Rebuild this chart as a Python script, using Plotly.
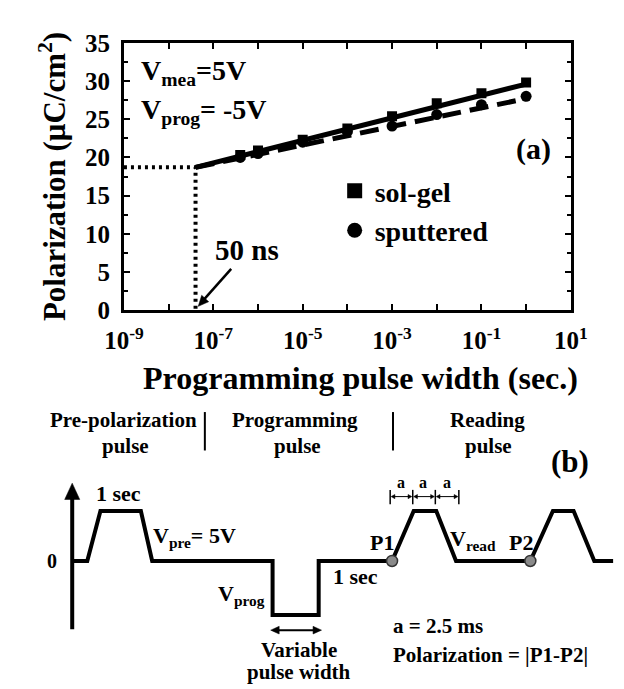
import math
import plotly.graph_objects as go

W, H = 624, 689
FONT = "Liberation Serif"

# ---------------- Panel (a) data ----------------
pulse_width = [4e-7, 1e-6, 1e-5, 1e-4, 1e-3, 1e-2, 1e-1, 1]
solgel = [20.3, 20.9, 22.3, 23.8, 25.4, 27.1, 28.4, 29.8]
sputtered = [20.0, 20.5, 22.0, 23.4, 24.1, 25.6, 26.9, 28.0]
fit_x = [4e-8, 1]
fit_solgel = [18.7, 29.6]
fit_sputtered = [18.7, 27.7]
guide_x = [1e-9, 4e-8, 4e-8]
guide_y = [18.7, 18.7, 0]

x_tickvals = [1e-9, 1e-7, 1e-5, 1e-3, 1e-1, 10]
x_ticktext = ["10<sup>-9</sup>", "10<sup>-7</sup>", "10<sup>-5</sup>",
              "10<sup>-3</sup>", "10<sup>-1</sup>", "10<sup>1</sup>"]
x_minorvals = [1e-8, 1e-6, 1e-4, 1e-2, 1]
y_tickvals = [0, 5, 10, 15, 20, 25, 30, 35]

# ---------------- Panel (b) schematic data ----------------
# time (schematic units) and voltage (V)
wave_t = [47, 63, 77, 120, 132, 260, 260, 309, 309, 387, 410, 434, 455, 534, 558, 580, 602, 622]
wave_v = [0, 0, 5, 5, 0, 0, -5.4, -5.4, 0, 0, 5, 5, 0, 0, 5, 5, 0, 0]
sample_t = [387, 534]
sample_v = [0, 0]


def px(x):
    return x / W


def py(y):
    return 1 - y / H


def yv(pix):  # pixel row -> schematic volts
    return (562 - pix) * 5 / 52


fig = go.Figure()

# guides
fig.add_trace(go.Scatter(x=guide_x, y=guide_y, mode="lines",
                         line=dict(color="black", width=4, dash="3px,4px"),
                         showlegend=False, xaxis="x", yaxis="y"))
# fits
fig.add_trace(go.Scatter(x=fit_x, y=fit_solgel, mode="lines",
                         line=dict(color="black", width=5),
                         showlegend=False))
fig.add_trace(go.Scatter(x=fit_x, y=fit_sputtered, mode="lines",
                         line=dict(color="black", width=5, dash="19px,9px"),
                         showlegend=False))
# data
fig.add_trace(go.Scatter(x=pulse_width, y=solgel, mode="markers",
                         marker=dict(symbol="square", size=10, color="black"),
                         showlegend=False))
fig.add_trace(go.Scatter(x=pulse_width, y=sputtered, mode="markers",
                         marker=dict(symbol="circle", size=11, color="black"),
                         showlegend=False))
# legend entries
fig.add_trace(go.Scatter(x=[None], y=[None], mode="markers", name="sol-gel",
                         marker=dict(symbol="square", size=15, color="black"),
                         legendgroup="a"))
fig.add_trace(go.Scatter(x=[None], y=[None], mode="markers", name="sputtered",
                         marker=dict(symbol="circle", size=15, color="black"),
                         legendgroup="b"))

# schematic waveform
fig.add_trace(go.Scatter(x=wave_t, y=wave_v, mode="lines",
                         line=dict(color="black", width=4),
                         showlegend=False, xaxis="x2", yaxis="y2"))
fig.add_trace(go.Scatter(x=sample_t, y=sample_v, mode="markers",
                         marker=dict(size=11, color="#8a8a8a",
                                     line=dict(color="#333333", width=1.5)),
                         showlegend=False, xaxis="x2", yaxis="y2"))

ann = []


def txt(t, x, y, size=21, xanchor="center", angle=0):
    ann.append(dict(text=t, x=px(x), y=py(y), xref="paper", yref="paper",
                    showarrow=False, xanchor=xanchor, yanchor="middle",
                    textangle=angle,
                    font=dict(family=FONT, size=size, color="black", weight="bold")))


# panel (a) texts
txt("V<sub>mea</sub>=5V", 118, 54, 28, "left")
txt("V<sub>prog</sub>= -5V", 118, 94, 28, "left")
txt("(a)", 537, 133, 30)
txt("50 ns", 233, 238, 29)
txt("Polarization (μC/cm<sup>2</sup>)", 26, 162, 31, angle=-90)
txt("Programming pulse width (sec.)", 353, 372, 32)

# panel (b) texts
txt("Pre-polarization", 101, 415)
txt("pulse", 104, 442)
txt("Programming", 284, 415)
txt("pulse", 286, 442)
txt("Reading", 488, 415)
txt("pulse", 490, 442)
txt("(b)", 576, 458, 31)
txt("1 sec", 96, 492, 22)
txt("V<sub>pre</sub>= 5V", 131, 537, 22, "left")
txt("V<sub>prog</sub>", 227, 597, 22)
txt("1 sec", 348, 578, 22)
txt("P1", 376, 543, 22)
txt("V<sub>read</sub>", 447, 540, 22, "left")
txt("P2", 524, 543, 22)
for ax_ in (396, 420, 445):
    txt("a", ax_, 480, 16)
txt("0", 25, 562, 20)
txt("Variable", 288, 655, 21)
txt("pulse width", 288, 678, 21)
txt("a = 2.5 ms", 386, 630, 21, "left")
txt("Polarization = |P1-P2|", 386, 660, 21, "left")

shapes = []


def pline(x0, y0, x1, y1, width):
    shapes.append(dict(type="line", xref="paper", yref="paper",
                       x0=px(x0), y0=py(y0), x1=px(x1), y1=py(y1),
                       line=dict(color="black", width=width)))


def head(tx, ty, fx, fy, hl, hw):
    # arrow head with tip at (tx, ty) pointing away from (fx, fy)
    dx, dy = tx - fx, ty - fy
    L = math.hypot(dx, dy)
    ux, uy = dx / L, dy / L
    bx, by = tx - ux * hl, ty - uy * hl
    p1 = (bx - uy * hw, by + ux * hw)
    p2 = (bx + uy * hw, by - ux * hw)
    path = (f"M {px(tx)} {py(ty)} L {px(p1[0])} {py(p1[1])} "
            f"L {px(p2[0])} {py(p2[1])} Z")
    shapes.append(dict(type="path", xref="paper", yref="paper", path=path,
                       fillcolor="black", line=dict(color="black", width=0.5)))


# 50 ns arrow
pline(216, 258, 186, 291, 2.5)
head(181, 297, 216, 258, 11, 5)

# variable pulse width arrow
pline(264, 634, 306, 634, 2)
head(258, 634, 312, 634, 9, 4)
head(312, 634, 258, 634, 9, 4)

# dimension arrows
dim_x = [385, 409, 433, 458]
for i in range(3):
    a0, a1 = dim_x[i] + 1, dim_x[i + 1] - 1
    pline(a0 + 3, 495, a1 - 3, 495, 1)
    head(a0, 495, a1, 495, 4, 2.2)
    head(a1, 495, a0, 495, 4, 2.2)
for dx in dim_x:
    pline(dx, 488, dx, 503, 1.5)

# vertical axis of the schematic
pline(47, 633, 47, 494, 4)
head(47, 481, 47, 633, 17, 8)

# separators
for sx in (188, 388):
    pline(sx, 407, sx, 447, 2)

fig.update_layout(
    width=W, height=H, margin=dict(l=0, r=0, t=0, b=0),
    paper_bgcolor="white", plot_bgcolor="white",
    font=dict(family=FONT, size=25, color="black", weight="bold"),
    xaxis=dict(type="log", range=[-9, 1], domain=[px(102), px(577)], anchor="y",
               showline=True, linewidth=3, linecolor="black", mirror="ticks",
               ticks="inside", ticklen=6, tickwidth=2, tickcolor="black",
               tickvals=x_tickvals, ticktext=x_ticktext, showgrid=False,
               minor=dict(tickvals=x_minorvals, ticks="inside", ticklen=6,
                          tickwidth=2, tickcolor="black", showgrid=False),
               zeroline=False, tickfont=dict(size=25), ticklabelstandoff=6),
    yaxis=dict(range=[0, 35], domain=[py(301), py(22.7)], anchor="x",
               showline=True, linewidth=3, linecolor="black", mirror="ticks",
               ticks="inside", ticklen=6, tickwidth=2, tickcolor="black",
               tickvals=y_tickvals, showgrid=False, zeroline=False,
               minor=dict(dtick=2.5, ticks="inside", ticklen=4, tickwidth=2,
                          tickcolor="black", showgrid=False),
               tickfont=dict(size=25), ticklabelstandoff=6),
    xaxis2=dict(range=[0, W], domain=[0, 1], anchor="y2", visible=False),
    yaxis2=dict(range=[yv(H), yv(340)], domain=[0, py(340)], anchor="x2",
                visible=False),
    legend=dict(x=px(326), y=py(151), xanchor="left", yanchor="top",
                bgcolor="rgba(0,0,0,0)", font=dict(size=28),
                traceorder="grouped", tracegroupgap=0),
    annotations=ann, shapes=shapes,
)

fig.write_html("out.html")
